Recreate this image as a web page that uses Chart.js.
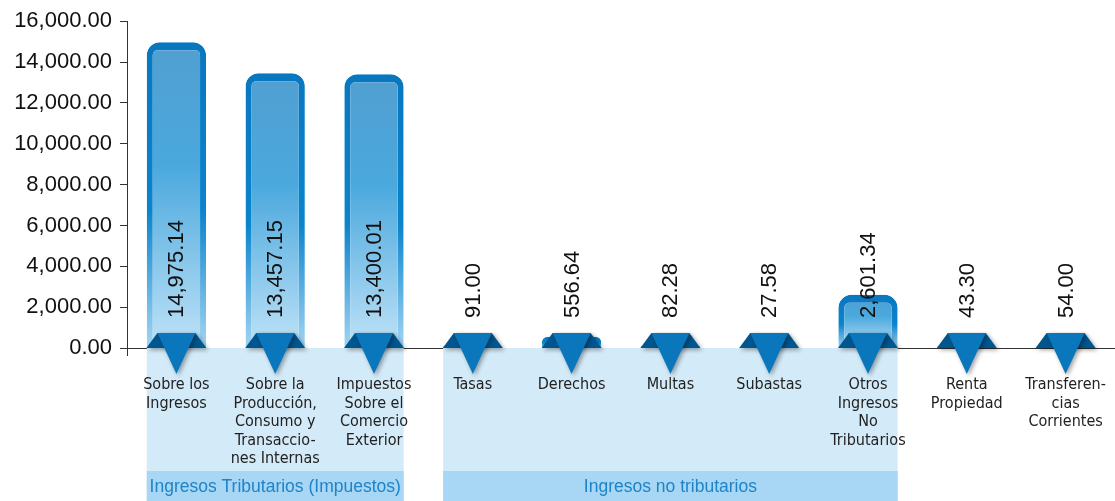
<!DOCTYPE html>
<html>
<head>
<meta charset="utf-8">
<script src="https://cdn.jsdelivr.net/npm/chart.js@4/dist/chart.umd.min.js"></script>
<style>
  html, body { margin: 0; padding: 0; background: #fff; }
  canvas { display: block; }
</style>
</head>
<body>
<canvas id="c" width="1115" height="501"></canvas>
<script>
// data
const categories = [
    ['Sobre los', 'Ingresos'],
    ['Sobre la', 'Producción,', 'Consumo y', 'Transaccio-', 'nes Internas'],
    ['Impuestos', 'Sobre el', 'Comercio', 'Exterior'],
    ['Tasas'],
    ['Derechos'],
    ['Multas'],
    ['Subastas'],
    ['Otros', 'Ingresos', 'No', 'Tributarios'],
    ['Renta', 'Propiedad'],
    ['Transferen-', 'cias', 'Corrientes']
];
const values = [14975.14, 13457.15, 13400.01, 91.00, 556.64, 82.28, 27.58, 2601.34, 43.30, 54.00];
const groupNames = ['Ingresos Tributarios (Impuestos)', 'Ingresos no tributarios'];
const groupFirst = [0, 3];
const groupLast = [2, 7];
const yMax = 16000;
const yStep = 2000;

const fmt = (v) => v.toLocaleString('en-US', { minimumFractionDigits: 2, maximumFractionDigits: 2 });
const NARROW = "'Liberation Sans Narrow', 'DejaVu Sans Condensed', sans-serif";
const SANS = "'Liberation Sans', Arial, sans-serif";

function barGradient(ctx, stops, fallback) {
    const chart = ctx.chart;
    if (!chart.chartArea || ctx.type !== 'data') return fallback;
    const y = chart.scales.y;
    const top = y.getPixelForValue(ctx.raw);
    const base = y.getPixelForValue(0);
    if (base - top < 1) return fallback;
    const g = chart.ctx.createLinearGradient(0, top, 0, base);
    stops.forEach(([p, c]) => g.addColorStop(p, c));
    return g;
}

const bandsPlugin = {
    id: 'bands',
    beforeDatasetsDraw(chart) {
        const { ctx, scales: { x, y } } = chart;
        const meta = chart.getDatasetMeta(0);
        const half = meta.data[0].width / 2;
        const y0 = y.getPixelForValue(0);
        const h = chart.height;
        ctx.save();
        groupNames.forEach((name, g) => {
            const left = x.getPixelForValue(groupFirst[g]) - half;
            const right = x.getPixelForValue(groupLast[g]) + half;
            ctx.fillStyle = '#d3eaf8';
            ctx.fillRect(left, y0, right - left, h - y0);
            ctx.fillStyle = '#a7d7f4';
            ctx.fillRect(left, 471, right - left, h - 471);
            ctx.fillStyle = '#1f83c7';
            ctx.font = '17.5px ' + SANS;
            ctx.textAlign = 'center';
            ctx.textBaseline = 'middle';
            ctx.fillText(name, (left + right) / 2, 487);
        });
        ctx.restore();
    }
};

const markersPlugin = {
    id: 'markers',
    afterDatasetsDraw(chart) {
        const { ctx, scales: { x, y } } = chart;
        const y0 = y.getPixelForValue(0);
        ctx.save();
        values.forEach((v, i) => {
            const cx = x.getPixelForValue(i);
            // shadow + dark trapezoid
            ctx.shadowColor = 'rgba(0,0,0,0.35)';
            ctx.shadowBlur = 4;
            ctx.shadowOffsetX = 2;
            ctx.shadowOffsetY = 2;
            ctx.fillStyle = '#00568f';
            ctx.beginPath();
            ctx.moveTo(cx - 30, y0);
            ctx.lineTo(cx - 19, y0 - 15);
            ctx.lineTo(cx + 19, y0 - 15);
            ctx.lineTo(cx + 30, y0);
            ctx.closePath();
            ctx.fill();
            ctx.beginPath();
            ctx.moveTo(cx - 19, y0 - 15);
            ctx.lineTo(cx + 19, y0 - 15);
            ctx.lineTo(cx, y0 + 26);
            ctx.closePath();
            ctx.fillStyle = '#0a77bd';
            ctx.fill();
            ctx.shadowColor = 'transparent';
            // value text, rotated
            ctx.save();
            ctx.translate(cx, y0 - 30);
            ctx.rotate(-Math.PI / 2);
            ctx.fillStyle = '#111';
            ctx.font = '22px ' + SANS;
            ctx.textAlign = 'left';
            ctx.textBaseline = 'middle';
            ctx.fillText(fmt(v), 0, 1);
            ctx.restore();
        });
        // y axis runs a little past zero
        ctx.strokeStyle = '#333';
        ctx.lineWidth = 1;
        ctx.beginPath();
        ctx.moveTo(x.left + 0.5, y0);
        ctx.lineTo(x.left + 0.5, y0 + 8);
        ctx.stroke();
        ctx.restore();
    }
};

new Chart(document.getElementById('c'), {
    type: 'bar',
    data: {
        labels: categories,
        datasets: [{
            data: values,
            backgroundColor: (c) => barGradient(c, [[0, '#519fd1'], [0.4, '#4aa8dd'], [1, '#bfe2f7']], '#4aa8dd'),
            borderColor: (c) => barGradient(c, [[0, '#0877c0'], [0.55, '#0a84cc'], [1, '#a3d5f4']], '#0a84cc'),
            borderWidth: { top: 8, left: 6, right: 6, bottom: 0 },
            borderSkipped: 'bottom',
            borderRadius: { topLeft: 13, topRight: 13 },
            barPercentage: 0.6,
            categoryPercentage: 1
        }]
    },
    options: {
        responsive: false,
        animation: false,
        layout: { padding: { top: 15, right: 0, bottom: 0, left: 0 } },
        plugins: {
            legend: { display: false },
            tooltip: { enabled: false }
        },
        scales: {
            x: {
                offset: true,
                grid: { display: false },
                border: { display: true, color: '#333', width: 1 },
                ticks: {
                    z: 1,
                    autoSkip: false,
                    maxRotation: 0,
                    padding: 20,
                    color: '#222',
                    font: { family: NARROW, size: 16, lineHeight: 1.15 }
                },
                afterFit: (s) => { s.height = 153; s.paddingLeft = 0; s.paddingRight = 0; }
            },
            y: {
                min: 0,
                max: yMax,
                grid: { drawOnChartArea: false, drawTicks: true, tickLength: 7, color: '#333' },
                border: { display: true, color: '#333', width: 1 },
                ticks: {
                    stepSize: yStep,
                    padding: 8,
                    color: '#111',
                    font: { family: SANS, size: 22 },
                    callback: (v) => fmt(v)
                },
                afterFit: (s) => { s.width = 127; }
            }
        }
    },
    plugins: [bandsPlugin, markersPlugin]
});
</script>
</body>
</html>
